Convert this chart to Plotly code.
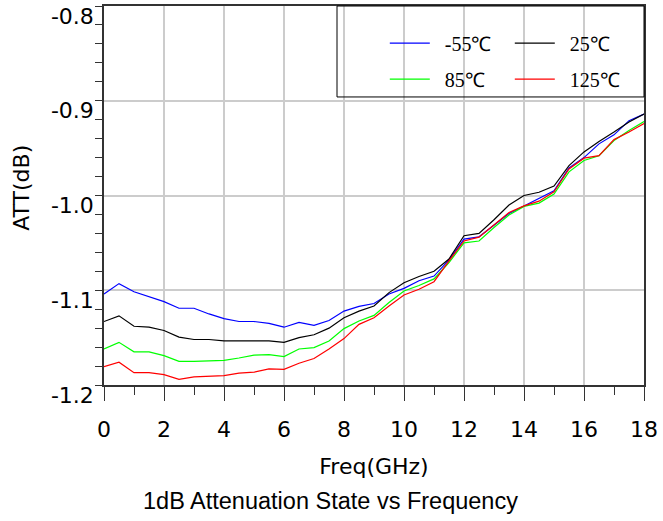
import plotly.graph_objects as go

freq = [i * 0.5 for i in range(37)]

att_m55 = [-1.104, -1.093, -1.1016, -1.1066, -1.112, -1.119, -1.119, -1.125, -1.130, -1.133,
           -1.133, -1.135, -1.139, -1.134, -1.137, -1.132, -1.122, -1.117, -1.114, -1.104,
           -1.098, -1.090, -1.085, -1.068, -1.046, -1.0436, -1.031, -1.019, -1.011, -1.003,
           -0.995, -0.971, -0.960, -0.9455, -0.936, -0.921, -0.914]
att_25 = [-1.133, -1.127, -1.138, -1.139, -1.1425, -1.1495, -1.152, -1.152, -1.1535, -1.1535,
          -1.154, -1.1535, -1.155, -1.150, -1.147, -1.140, -1.129, -1.122, -1.1166, -1.1025,
          -1.092, -1.0855, -1.080, -1.067, -1.0425, -1.040, -1.0256, -1.010, -1.000, -0.9966,
          -0.990, -0.9685, -0.954, -0.943, -0.933, -0.9225, -0.914]
att_85 = [-1.162, -1.155, -1.165, -1.165, -1.169, -1.175, -1.175, -1.1745, -1.174, -1.1715,
          -1.1685, -1.168, -1.170, -1.162, -1.1605, -1.1536, -1.1405, -1.1325, -1.1265, -1.113,
          -1.1007, -1.095, -1.088, -1.0707, -1.050, -1.048, -1.0337, -1.0206, -1.0115, -1.008,
          -0.9984, -0.975, -0.963, -0.958, -0.942, -0.9314, -0.922]
att_125 = [-1.1806, -1.176, -1.187, -1.187, -1.189, -1.194, -1.1915, -1.191, -1.190, -1.1875,
           -1.1865, -1.183, -1.1835, -1.177, -1.172, -1.1620, -1.151, -1.136, -1.129, -1.1166,
           -1.105, -1.099, -1.091, -1.069, -1.048, -1.044, -1.031, -1.018, -1.011, -1.006,
           -0.996, -0.972, -0.9606, -0.958, -0.941, -0.933, -0.924]

series_names = ["-55℃", "25℃", "85℃", "125℃"]
series_colors = ["#0000ff", "#000000", "#00ff00", "#ff0000"]
series_values = [att_m55, att_25, att_85, att_125]
series_legend = ["legend", "legend", "legend2", "legend2"]

x_tickvals = [0, 2, 4, 6, 8, 10, 12, 14, 16, 18]
x_ticktext = ["0", "2", "4", "6", "8", "10", "12", "14", "16", "18"]
y_tickvals = [-1.2, -1.1, -1.0, -0.9, -0.8]
y_ticktext = ["-1.2", "-1.1", "-1.0", "-0.9", "-0.8"]

x_title = "Freq(GHz)"
y_title = "ATT(dB)"
caption = "1dB Attenuation State vs Frequency"

tick_font = dict(family="DejaVu Sans", size=22, color="#000000")
title_font = dict(family="DejaVu Sans", size=22, color="#000000")
legend_font = dict(family="Liberation Serif", size=20, color="#000000")

fig = go.Figure()
for name, color, vals, lg in zip(series_names, series_colors, series_values, series_legend):
    fig.add_trace(go.Scatter(x=freq, y=vals, mode="lines", name="\u00a0\u00a0" + name,
                             line=dict(color=color, width=1.2), legend=lg))

legend_common = dict(orientation="h", xanchor="left", yanchor="middle",
                     bgcolor="rgba(0,0,0,0)", borderwidth=0, itemwidth=40,
                     entrywidth=70, entrywidthmode="pixels", font=legend_font)

fig.update_layout(
    width=663, height=521,
    margin=dict(l=104, r=19, t=6, b=136, autoexpand=False),
    paper_bgcolor="white", plot_bgcolor="white",
    showlegend=True,
    legend=dict(x=0.52, y=0.902, **legend_common),
    legend2=dict(x=0.52, y=0.807, **legend_common),
    shapes=[dict(type="rect", xref="paper", yref="paper", x0=0.4315, x1=1.0, y0=0.76, y1=1.0,
                 line=dict(color="#000000", width=1), fillcolor="rgba(0,0,0,0)", layer="above")],
    annotations=[dict(text=caption, xref="paper", yref="paper", x=(330 - 104) / 540, y=-0.305,
                      xanchor="center", yanchor="middle", showarrow=False,
                      font=dict(family="Liberation Sans", size=23.5, color="#000000")),
                 dict(text=y_title, xref="paper", yref="paper", x=-0.152, y=0.52,
                      xanchor="center", yanchor="middle", showarrow=False, textangle=-90,
                      font=title_font)],
)

fig.update_xaxes(
    range=[0, 18], tickvals=x_tickvals, ticktext=x_ticktext, automargin=False,
    ticks="outside", ticklen=14, tickcolor="#333333", tickwidth=1,
    minor=dict(dtick=1, ticks="outside", ticklen=8, tickcolor="#333333", showgrid=False),
    showgrid=True, gridcolor="#cccccc", gridwidth=1.5,
    showline=True, linecolor="#333333", linewidth=1.5, mirror=True,
    tickfont=tick_font, ticklabelstandoff=10,
    title=dict(text=x_title, font=title_font, standoff=17),
    zeroline=False,
)
fig.update_yaxes(
    range=[-1.2, -0.8], tickvals=y_tickvals, ticktext=y_ticktext, automargin=False,
    ticks="outside", ticklen=7, tickcolor="#333333", tickwidth=1,
    minor=dict(dtick=0.02, ticks="outside", ticklen=7, tickcolor="#333333", showgrid=False),
    showgrid=True, gridcolor="#cccccc", gridwidth=1.5,
    showline=True, linecolor="#333333", linewidth=1.5, mirror=True,
    tickfont=tick_font, ticklabelshift=10, ticklabelstandoff=-3, ticklabeloverflow="allow",
    zeroline=False,
)

fig.write_html("out.html", config={"displayModeBar": False},
               post_script="document.body.style.margin='0px';document.body.style.padding='0px';")
